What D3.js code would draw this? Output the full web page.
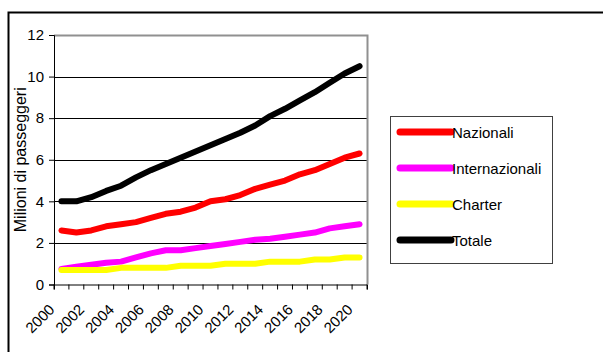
<!DOCTYPE html>
<html>
<head>
<meta charset="utf-8">
<script src="https://cdn.jsdelivr.net/npm/d3@7"></script>
<style>
    body { margin: 0; background: #fff; }
    svg { display: block; font-family: "Liberation Sans", Arial, sans-serif; }
</style>
</head>
<body>
<svg id="drawing_region"></svg>
<script>
// anni 2000 - 2020
const years = d3.range(2000, 2021);
const year_labels = ["2000","2002","2004","2006","2008","2010","2012","2014","2016","2018","2020"];
const y_ticks = [0, 2, 4, 6, 8, 10, 12];

const series_names = ["Nazionali", "Internazionali", "Charter", "Totale"];
const series_colors = ["#ff0000", "#ff00ff", "#ffff00", "#000000"];

const nazionali      = [2.6, 2.5, 2.6, 2.8, 2.9, 3.0, 3.2, 3.4, 3.5, 3.7, 4.0, 4.1, 4.3, 4.6, 4.8, 5.0, 5.3, 5.5, 5.8, 6.1, 6.3];
const internazionali = [0.75, 0.85, 0.95, 1.05, 1.1, 1.3, 1.5, 1.65, 1.65, 1.75, 1.85, 1.95, 2.05, 2.15, 2.2, 2.3, 2.4, 2.5, 2.7, 2.8, 2.9];
const charter        = [0.7, 0.7, 0.7, 0.7, 0.8, 0.8, 0.8, 0.8, 0.9, 0.9, 0.9, 1.0, 1.0, 1.0, 1.1, 1.1, 1.1, 1.2, 1.2, 1.3, 1.3];
const totale         = [4.0, 4.0, 4.2, 4.5, 4.75, 5.15, 5.5, 5.8, 6.1, 6.4, 6.7, 7.0, 7.3, 7.65, 8.1, 8.45, 8.85, 9.25, 9.7, 10.15, 10.5];

const series_values = [nazionali, internazionali, charter, totale];

class LineChart {

    constructor( config ) {
        this.config = config;
        this.init();
    }

    init() {
        let self = this;

        self.svg = d3.select( self.config.parent )
            .attr('width', self.config.width)
            .attr('height', self.config.height);

        // cornice esterna
        self.svg.append('rect')
            .attr('x', 8.5).attr('y', 12.5)
            .attr('width', 700).attr('height', 500)
            .attr('fill', 'none')
            .attr('stroke', '#000')
            .attr('stroke-width', 2);

        const p = self.config.plot;
        self.xscale = d3.scaleBand()
            .domain( years )
            .range( [p.left, p.right] );

        self.yscale = d3.scaleLinear()
            .domain( [0, 12] )
            .range( [p.bottom, p.top] );

        self.line = d3.line()
            .x( (d, i) => self.xscale( years[i] ) + self.xscale.bandwidth() / 2 )
            .y( d => self.yscale( d ) );
    }

    render() {
        let self = this;
        const p = self.config.plot;

        // griglia
        self.svg.append('g')
            .selectAll('line')
            .data( y_ticks.filter( v => v > 0 && v < 12 ) )
            .join('line')
            .attr('x1', p.left).attr('x2', p.right)
            .attr('y1', d => Math.round(self.yscale(d)) + 0.5)
            .attr('y2', d => Math.round(self.yscale(d)) + 0.5)
            .attr('stroke', '#000');

        // bordo grigio area del grafico
        self.svg.append('path')
            .attr('d', `M${p.left},${p.top + 0.5}H${p.right + 0.5}V${p.bottom}`)
            .attr('fill', 'none')
            .attr('stroke', '#909090')
            .attr('stroke-width', 2);

        // asse y
        const yaxis = d3.axisLeft( self.yscale )
            .tickValues( y_ticks )
            .tickSize(5)
            .tickPadding(5);
        self.svg.append('g')
            .attr('transform', `translate(${p.left}, 0)`)
            .call( yaxis )
            .call( g => g.selectAll('text').attr('font-size', 15).attr('fill', '#000') )
            .call( g => g.select('.domain').attr('stroke', '#000') );

        // asse x
        const xaxis = d3.axisBottom( self.xscale )
            .tickSize(5)
            .tickFormat('');
        const xg = self.svg.append('g')
            .attr('transform', `translate(0, ${p.bottom})`)
            .call( xaxis );
        xg.selectAll('.tick line')
            .attr('transform', `translate(${-self.xscale.bandwidth() / 2}, 0)`);
        xg.append('line')
            .attr('x1', p.right).attr('x2', p.right)
            .attr('y1', 0).attr('y2', 5)
            .attr('stroke', '#000');

        self.svg.append('g')
            .selectAll('text')
            .data( year_labels )
            .join('text')
            .attr('transform', d => {
                const x = self.xscale( +d ) + self.xscale.bandwidth() / 2 - 6;
                const y = p.bottom + 26;
                return `translate(${x}, ${y}) rotate(-45)`;
            })
            .attr('text-anchor', 'end')
            .attr('font-size', 15)
            .text( d => d );

        // titolo asse y
        self.svg.append('text')
            .attr('transform', `translate(26, ${(p.top + p.bottom) / 2}) rotate(-90)`)
            .attr('text-anchor', 'middle')
            .attr('font-size', 16)
            .text('Milioni di passeggeri');

        // linee
        self.svg.append('g')
            .selectAll('path')
            .data( series_values )
            .join('path')
            .attr('d', d => self.line( d ))
            .attr('fill', 'none')
            .attr('stroke', (d, i) => series_colors[i])
            .attr('stroke-width', 6)
            .attr('stroke-linecap', 'round')
            .attr('stroke-linejoin', 'round');

        // legenda
        const lg = self.config.legend;
        self.svg.append('rect')
            .attr('x', lg.x + 0.5).attr('y', lg.y + 0.5)
            .attr('width', lg.width).attr('height', lg.height)
            .attr('fill', '#fff')
            .attr('stroke', '#404040');

        const item = self.svg.append('g')
            .selectAll('g')
            .data( series_names )
            .join('g')
            .attr('transform', (d, i) => `translate(${lg.x}, ${lg.y + 16 + i * 36})`);

        item.append('line')
            .attr('x1', 10).attr('x2', 61)
            .attr('stroke', (d, i) => series_colors[i])
            .attr('stroke-width', 7)
            .attr('stroke-linecap', 'round');

        item.append('text')
            .attr('x', 62)
            .attr('y', 5.5)
            .attr('font-size', 15)
            .text( d => d );
    }
}

const chart = new LineChart({
    parent: '#drawing_region',
    width: 603,
    height: 352,
    plot: { left: 54, right: 367, top: 35, bottom: 284.5 },
    legend: { x: 390, y: 116, width: 162, height: 147 }
});
chart.render();
</script>
</body>
</html>
